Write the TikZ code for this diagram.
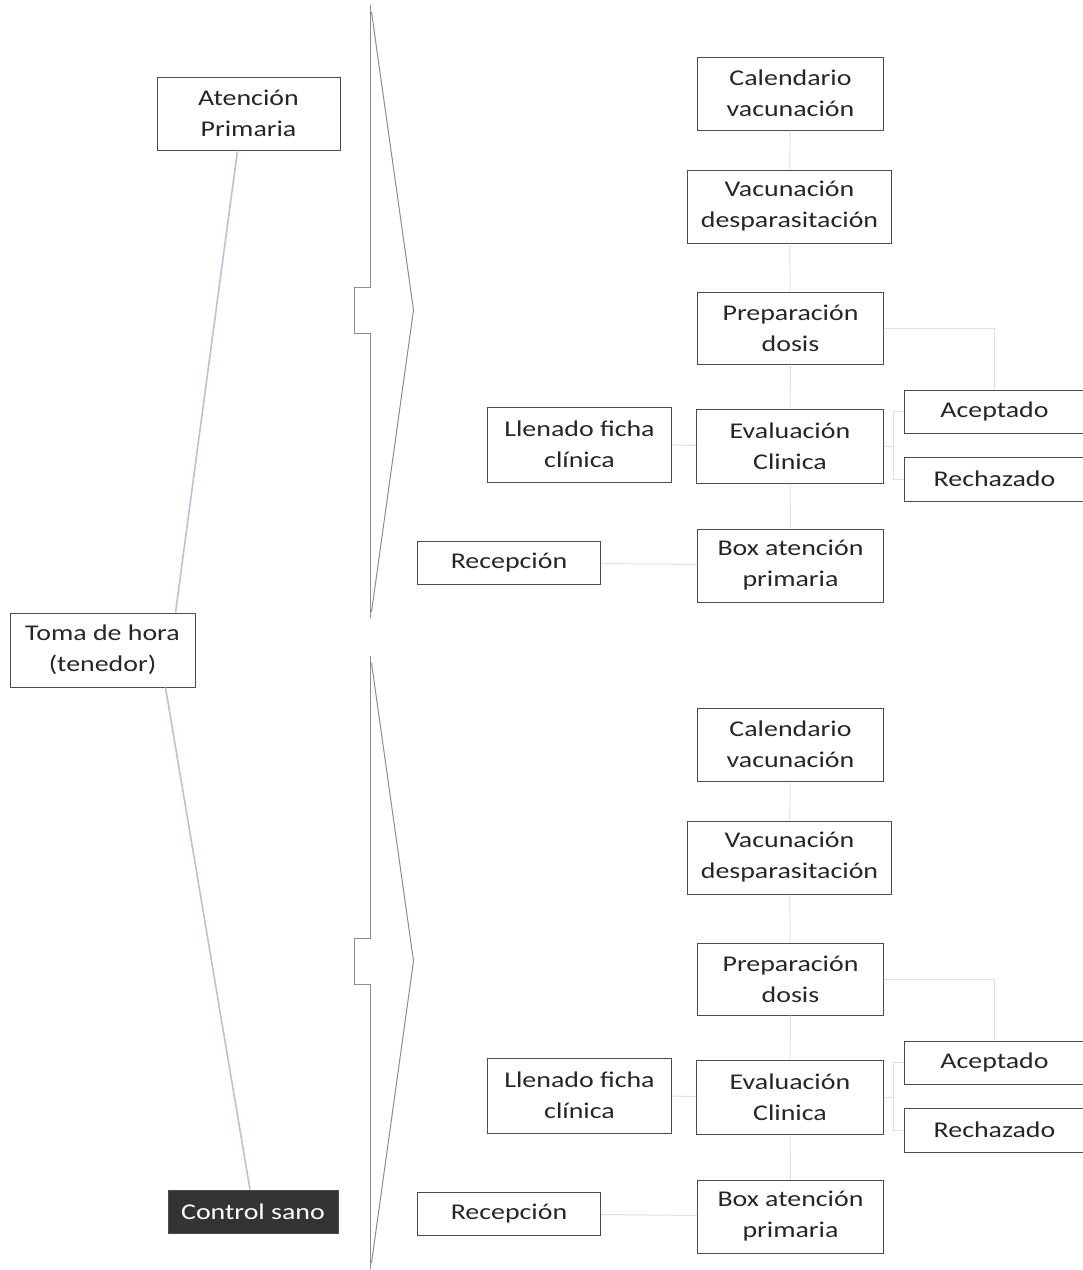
\documentclass[tikz,border=0pt]{standalone}
\usepackage{fontspec}
\setmainfont{Carlito}[FakeStretch=1.24]
\usepackage{xcolor}
\usetikzlibrary{positioning,calc}

\definecolor{lila}{RGB}{190,190,222}
\tikzset{
  caja/.style={draw=black!70,line width=1pt,align=center,inner sep=0pt,
    text=black!85,font=\fontsize{22.5}{31}\selectfont},
  oscura/.style={caja,fill=black!80,text=white},
  liga/.style={draw=black!12,line width=1pt},
  diag/.style={draw=lila,line width=1.6pt},
  llave/.style={draw=black!45,line width=1pt,line join=miter}
}

\begin{document}
\begin{tikzpicture}[x=1pt,y=-1pt]
\useasboundingbox (0,0) rectangle (1083,1270);

% lado izquierdo
\node[caja,minimum width=183,minimum height=73] (ap) at (248.5,113.5) {Atención\\Primaria};
\node[caja,minimum width=185,minimum height=74] (toma) at (102.5,650) {Toma de hora\\(tenedor)};
\node[oscura,minimum width=170,minimum height=43] (ctrl) at (253,1211.5) {Control sano};
\draw[diag] ([xshift=-11pt]ap.south) -- ([xshift=-20pt]toma.north east);
\draw[diag] ([xshift=-30pt]toma.south east) -- ([xshift=-3pt]ctrl.north);

% las dos ramas
\foreach \h/\dy in {1/0,2/651}{
  \begin{scope}[shift={(-1.5,\dy)}]
    \draw[llave] (372,5) -- (372,287) -- (356,287) -- (356,333) -- (372,333) -- (372,618);
    \draw[llave] (373,12) -- (415,310) -- (373,612);
    \node[caja,minimum width=186,minimum height=73] (cal\h) at (792,93.5) {Calendario\\vacunación};
    \node[caja,minimum width=204,minimum height=73] (vac\h) at (791,206.5) {Vacunación\\desparasitación};
    \node[caja,minimum width=186,minimum height=72] (prep\h) at (792,328) {Preparación\\dosis};
    \node[caja,minimum width=184,minimum height=75] (llen\h) at (581,444.5) {Llenado ficha\\clínica};
    \node[caja,minimum width=187,minimum height=74] (eval\h) at (791.5,446) {Evaluación\\Clinica};
    \node[caja,minimum width=180,minimum height=43] (acep\h) at (996,411.5) {Aceptado};
    \node[caja,minimum width=180,minimum height=44] (rech\h) at (996,479) {Rechazado};
    \node[caja,minimum width=183,minimum height=43] (recep\h) at (510.5,562.5) {Recepción};
    \node[caja,minimum width=186,minimum height=73] (box\h) at (792,565.5) {Box atención\\primaria};
    % conectores tenues
    \draw[liga] (cal\h) -- (vac\h);
    \draw[liga] (vac\h) -- (prep\h);
    \draw[liga] (prep\h) -- (eval\h);
    \draw[liga] (eval\h) -- (box\h);
    \draw[liga] (prep\h.east) -| (acep\h.north);
    \draw[liga] (llen\h) -- (eval\h);
    \draw[liga] (recep\h) -- (box\h);
    \draw[liga] (eval\h.east) -- ++(9,0) |- (acep\h.west);
    \draw[liga] (eval\h.east) -- ++(9,0) |- (rech\h.west);
  \end{scope}
}
\end{tikzpicture}
\end{document}
